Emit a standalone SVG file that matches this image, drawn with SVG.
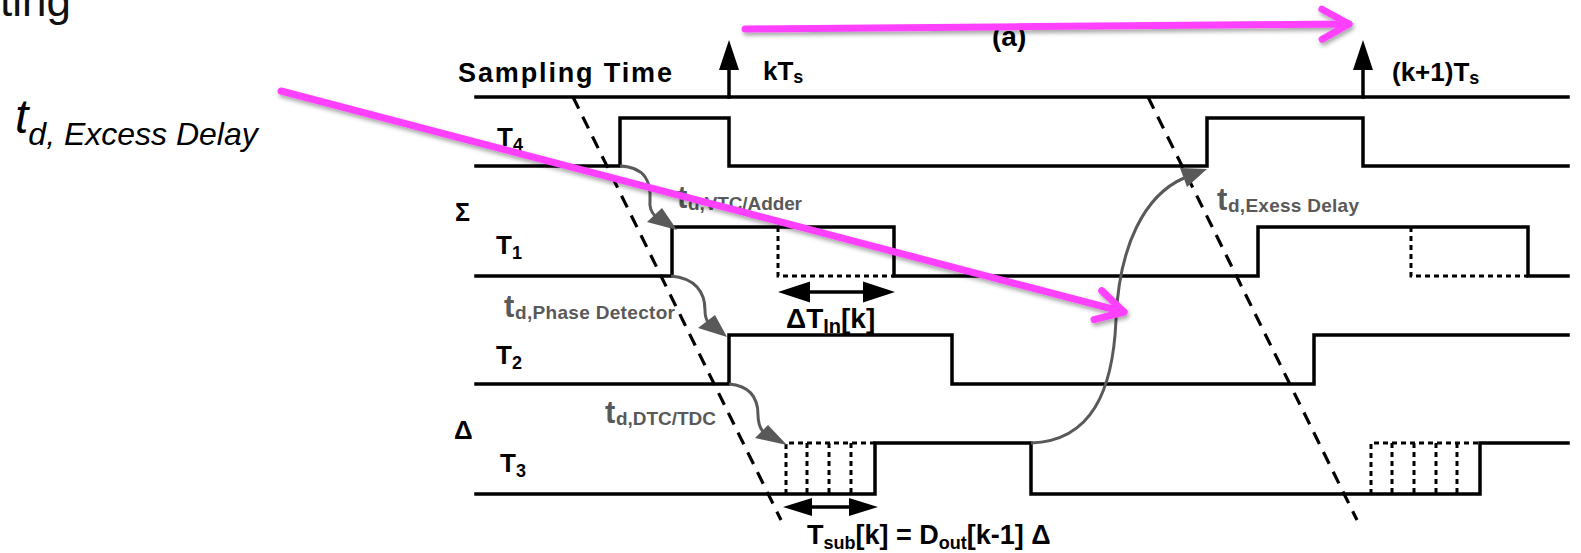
<svg xmlns="http://www.w3.org/2000/svg" width="1581" height="553" viewBox="0 0 1581 553">
<defs>
<style>
.w{fill:none;stroke:#000;stroke-width:3.5;stroke-linejoin:miter;stroke-linecap:square}
.dot{fill:none;stroke:#000;stroke-width:3;stroke-dasharray:5 4}
.dash{fill:none;stroke:#000;stroke-width:3.2;stroke-dasharray:13 9}
.lbl{font-family:"Liberation Sans",Arial,sans-serif;font-weight:bold;fill:#000}
.g{font-family:"Liberation Sans",Arial,sans-serif;font-weight:bold;fill:#595959}
.cv{fill:none;stroke:#595959;stroke-width:3}
.ah{fill:#595959}
.bh{fill:#000}
.pk{fill:none;stroke:#ff40ff;stroke-width:7;stroke-linecap:round}
</style>
<marker id="chev" markerUnits="userSpaceOnUse" orient="auto" refX="0" refY="0" markerWidth="1" markerHeight="1" style="overflow:visible">
<path d="M-27,-15 L0,0 L-27,15" fill="none" stroke="#ff40ff" stroke-width="7" stroke-linecap="round" stroke-linejoin="round"/>
</marker>
<filter id="sh" filterUnits="userSpaceOnUse" x="0" y="0" width="1581" height="553">
<feDropShadow dx="1.5" dy="3" stdDeviation="2" flood-color="#000" flood-opacity="0.35"/>
</filter>
</defs>
<rect width="1581" height="553" fill="#fff"/>

<g id="title">
<text x="0" y="16" font-family="Liberation Sans, Arial, sans-serif" font-size="44" fill="#111">ting</text>
</g>
<g id="excess-delay-label">
<text x="15" y="133" font-family="Liberation Sans, Arial, sans-serif" font-style="italic" font-size="48" fill="#000">t<tspan font-size="32" dy="12">d, Excess Delay</tspan></text>
</g>

<g id="sampling">
<path class="w" d="M476,97 H1568"/>
<path class="w" d="M729,97 V68"/>
<polygon class="bh" points="729,40 719,70 739,70"/>
<path class="w" d="M1363,97 V68"/>
<polygon class="bh" points="1363,40 1353,70 1373,70"/>
<text class="lbl" x="458" y="82" font-size="27" textLength="214" lengthAdjust="spacing">Sampling Time</text>
<text class="lbl" x="763" y="80" font-size="26">kT<tspan font-size="18" dy="3">s</tspan></text>
<text class="lbl" x="1392" y="81" font-size="26">(k+1)T<tspan font-size="18" dy="3">s</tspan></text>
<text class="lbl" x="992" y="46" font-size="28">(a)</text>
</g>

<g id="T4">
<path class="w" d="M476,166 H620 V118 H729 V166 H1207 V118 H1363 V166 H1568"/>
<text class="lbl" x="497" y="146" font-size="26">T<tspan font-size="18" dy="5">4</tspan></text>
</g>

<g id="T1">
<path class="w" d="M476,276 H672 V227 H894 V276 H1258 V227 H1528 V276 H1568"/>
<path class="dot" d="M778,227 V276 H894"/>
<path class="dot" d="M1411,227 V276 H1528"/>
<text class="lbl" x="455" y="221" font-size="25">Σ</text>
<text class="lbl" x="496" y="254" font-size="26">T<tspan font-size="18" dy="5">1</tspan></text>
<path class="w" d="M806,292 H867"/>
<polygon class="bh" points="778,292 810,281.5 810,302.5"/>
<polygon class="bh" points="895,292 863,281.5 863,302.5"/>
<text class="lbl" x="786" y="328" font-size="28">ΔT<tspan font-size="20" dy="5">In</tspan><tspan dy="-5">[k]</tspan></text>
</g>

<g id="T2">
<path class="w" d="M476,384 H729 V335 H952 V384 H1314 V335 H1568"/>
<text class="lbl" x="496" y="364" font-size="26">T<tspan font-size="18" dy="5">2</tspan></text>
</g>

<g id="T3">
<path class="w" d="M476,494 H875 V443 H1031 V494 H1480 V443 H1568"/>
<path class="dot" d="M786,494 V443 H875 M807,443 V494 M829,443 V494 M851,443 V494"/>
<path class="dot" d="M1371,494 V443 H1480 M1392,443 V494 M1414,443 V494 M1436,443 V494 M1457,443 V494"/>
<text class="lbl" x="454" y="439" font-size="26">Δ</text>
<text class="lbl" x="500" y="472" font-size="26">T<tspan font-size="18" dy="5">3</tspan></text>
<path class="w" d="M810,507 H851"/>
<polygon class="bh" points="783,507 812,498 812,516"/>
<polygon class="bh" points="878,507 849,498 849,516"/>
<text class="lbl" x="807" y="544" font-size="27">T<tspan font-size="18" dy="5">sub</tspan><tspan dy="-5">[k] = D</tspan><tspan font-size="18" dy="5">out</tspan><tspan dy="-5">[k-1] Δ</tspan></text>
</g>

<g id="sample-edges">
<path class="dash" d="M573,97 L781,520"/>
<path class="dash" d="M1148,97 L1357,520"/>
</g>

<g id="connectors">
<path class="cv" d="M620,166 C646,167 651,183 650,200 Q649,210 655,216"/>
<polygon class="ah" points="677,230 647,222 662,208"/>
<path class="cv" d="M671,276 C695,278 705,292 705,310 Q705,318 708,322"/>
<polygon class="ah" points="727,337 698,328 715,315"/>
<path class="cv" d="M729,384 C752,386 758,400 758,415 Q758,425 763,432"/>
<polygon class="ah" points="787,445 755,438 768,425"/>
<path class="cv" d="M1031,443 C1092,441 1113,390 1116,320 C1119,245 1145,195 1184,178"/>
<polygon class="ah" points="1207,169 1187,187 1180,168"/>
</g>

<g id="delay-labels">
<text class="g" x="677" y="208" font-size="31">t</text>
<text class="g" x="688" y="210" font-size="19" textLength="114" lengthAdjust="spacing">d,VTC/Adder</text>
<text class="g" x="504" y="317" font-size="31">t</text>
<text class="g" x="515" y="319" font-size="19" textLength="160" lengthAdjust="spacing">d,Phase Detector</text>
<text class="g" x="605" y="423" font-size="31">t</text>
<text class="g" x="616" y="425" font-size="19" textLength="100" lengthAdjust="spacing">d,DTC/TDC</text>
<text class="g" x="1217" y="210" font-size="31">t</text>
<text class="g" x="1228" y="212" font-size="19" textLength="131" lengthAdjust="spacing">d,Exess Delay</text>
</g>

<g id="annotations" filter="url(#sh)">
<path class="pk" d="M745,29 L1349,24" marker-end="url(#chev)"/>
<path class="pk" d="M281,91 L1124,312" marker-end="url(#chev)"/>
</g>
</svg>
